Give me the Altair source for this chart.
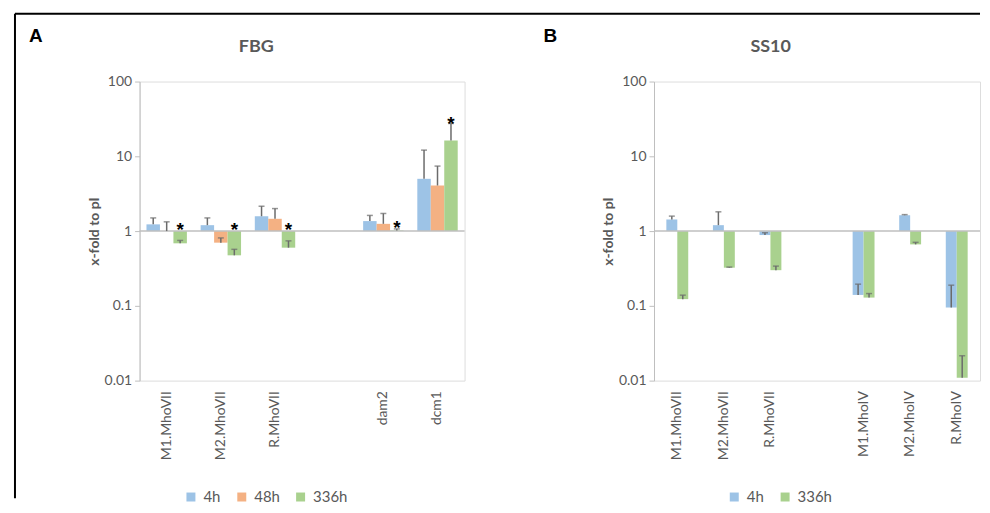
import altair as alt
import pandas as pd

# ---------------- data ----------------
cats_A = ["M1.MhoVII", "M2.MhoVII", "R.MhoVII", " ", "dam2", "dcm1"]
series_A = ["4h", "48h", "336h"]
A_4h = [1.23, 1.2, 1.58, None, 1.36, 5.0]
A_4h_top = [1.5, 1.5, 2.15, None, 1.62, 12.1]
A_48h = [1.0, 0.70, 1.46, None, 1.25, 4.07]
A_48h_top = [1.33, 0.81, 2.0, None, 1.72, 7.4]
A_336h = [0.686, 0.474, 0.60, None, 1.02, 16.3]
A_336h_top = [0.75, 0.57, 0.74, None, 1.07, 27.5]
A_336h_star = [1.2, 1.2, 1.2, None, 1.28, 32.0]

cats_B = ["M1.MhoVII", "M2.MhoVII", "R.MhoVII", " ", "M1.MhoIV", "M2.MhoIV", "R.MhoIV"]
series_B = ["4h", "336h"]
B_4h = [1.43, 1.2, 0.885, None, 0.14, 1.63, 0.095]
B_4h_top = [1.585, 1.81, 0.95, None, 0.195, 1.66, 0.189]
B_336h = [0.123, 0.324, 0.30, None, 0.129, 0.664, 0.0109]
B_336h_top = [0.139, 0.33, 0.34, None, 0.146, 0.707, 0.0215]

y_ticks = [0.01, 0.1, 1, 10, 100]
colors = {"4h": "#9DC3E6", "48h": "#F4B183", "336h": "#A9D18E"}

GREY = "#595959"
AXC = "#BFBFBF"
ERR = "#6B6B6B"
FONT = "Lato"


def make_df(cats, series, vals, tops, stars):
    rows = []
    for s in series:
        st = stars.get(s, [None] * len(cats))
        for c, v, t, a in zip(cats, vals[s], tops[s], st):
            if v is None:
                continue
            rows.append(dict(cat=c, series=s, value=v, top=t, star=a))
    return pd.DataFrame(rows)


dfA = make_df(cats_A, series_A,
              {"4h": A_4h, "48h": A_48h, "336h": A_336h},
              {"4h": A_4h_top, "48h": A_48h_top, "336h": A_336h_top},
              {"336h": A_336h_star})
dfB = make_df(cats_B, series_B,
              {"4h": B_4h, "336h": B_336h},
              {"4h": B_4h_top, "336h": B_336h_top},
              {})

one = pd.DataFrame({"k": [1]})


def panel(df, cats, series, width, pad_inner, title_text, letter, legend_x, frame):
    xs = alt.Scale(domain=cats, paddingInner=pad_inner, paddingOuter=pad_inner / 2)
    xaxis = alt.Axis(title=None, labelAngle=270, domain=False, ticks=False,
                     labelPadding=10, labelColor=GREY, labelFontSize=14,
                     labelFont=FONT)
    ys = alt.Scale(type="log", domain=[0.01, 100])
    yaxis = alt.Axis(values=y_ticks, format="~g", title="x-fold to pI",
                     titleFont=FONT, titleFontSize=14, titleFontWeight="bold",
                     titleColor=GREY, titlePadding=3,
                     labelFont=FONT, labelFontSize=14, labelColor=GREY,
                     labelPadding=3, grid=False, domainColor=AXC,
                     tickColor=AXC, tickSize=5)
    x = alt.X("cat:N", scale=xs, sort=cats, axis=xaxis)
    xo = alt.XOffset("series:N", scale=alt.Scale(domain=series, paddingInner=0,
                                                 paddingOuter=0))
    color = alt.Color("series:N",
                      scale=alt.Scale(domain=series,
                                      range=[colors[s] for s in series]),
                      legend=alt.Legend(orient="none", legendX=legend_x,
                                        legendY=409, direction="horizontal",
                                        title=None, symbolType="square",
                                        symbolSize=81, symbolStrokeWidth=0,
                                        labelFont=FONT, labelFontSize=15,
                                        labelColor=GREY, columnPadding=13,
                                        labelOffset=5))
    base = alt.Chart(df)
    bars = base.mark_bar().encode(
        x=x, xOffset=xo,
        y=alt.Y("value:Q", scale=ys, axis=yaxis),
        y2=alt.datum(1), color=color)
    baseline = alt.Chart(pd.DataFrame({"v": [1]})).mark_rule(
        color=AXC, strokeWidth=1.5).encode(
        y=alt.Y("v:Q", scale=ys, axis=yaxis))
    stems = base.mark_rule(color=ERR, strokeWidth=1.5).encode(
        x=x, xOffset=xo,
        y=alt.Y("value:Q", scale=ys, axis=yaxis), y2="top:Q")
    caps = base.mark_tick(color=ERR, thickness=1.5, size=6).encode(
        x=x, xOffset=xo, y=alt.Y("top:Q", scale=ys, axis=yaxis))
    stars = base.transform_filter("datum.star != null").mark_text(
        text="*", fontSize=19, fontWeight="bold", color="#000000",
        font="Liberation Sans", baseline="middle", dy=5).encode(
        x=x, xOffset=xo, y=alt.Y("star:Q", scale=ys, axis=yaxis))
    ttl = alt.Chart(one).mark_text(
        text=title_text, font=FONT, fontSize=18, fontWeight="bold",
        color=GREY, baseline="middle").encode(
        x=alt.value(117), y=alt.value(-35))
    let = alt.Chart(one).mark_text(
        text=letter, font="Liberation Sans", fontSize=19, fontWeight="bold",
        color="#000000", baseline="middle").encode(
        x=alt.value(-104), y=alt.value(-46))
    layers = [bars, baseline, stems, caps, stars, ttl, let]
    if frame:
        left = alt.Chart(one).mark_rule(color="#000000", strokeWidth=2).encode(
            x=alt.value(-125), y=alt.value(-68), y2=alt.value(418))
        top = alt.Chart(one).mark_rule(color="#000000", strokeWidth=2).encode(
            x=alt.value(-125), x2=alt.value(843), y=alt.value(-68))
        layers += [left, top]
    return alt.layer(*layers).properties(width=width, height=300)


pA = panel(dfA, cats_A, series_A, 326, 0.254, "FBG", "A", 44, True)
pB = panel(dfB, cats_B, series_B, 327, 0.53, "SS10", "B", 73, False)

chart = alt.hconcat(pA, pB, spacing=190, bounds="flush").resolve_scale(
    color="independent", x="independent", y="independent",
    xOffset="independent").resolve_legend(color="independent").properties(
    padding={"left": 5, "top": 3, "right": 0, "bottom": 0}).configure_view(
    stroke=None).configure(font=FONT)

chart.save("out.html", embed_options={"renderer": "svg", "actions": False})
